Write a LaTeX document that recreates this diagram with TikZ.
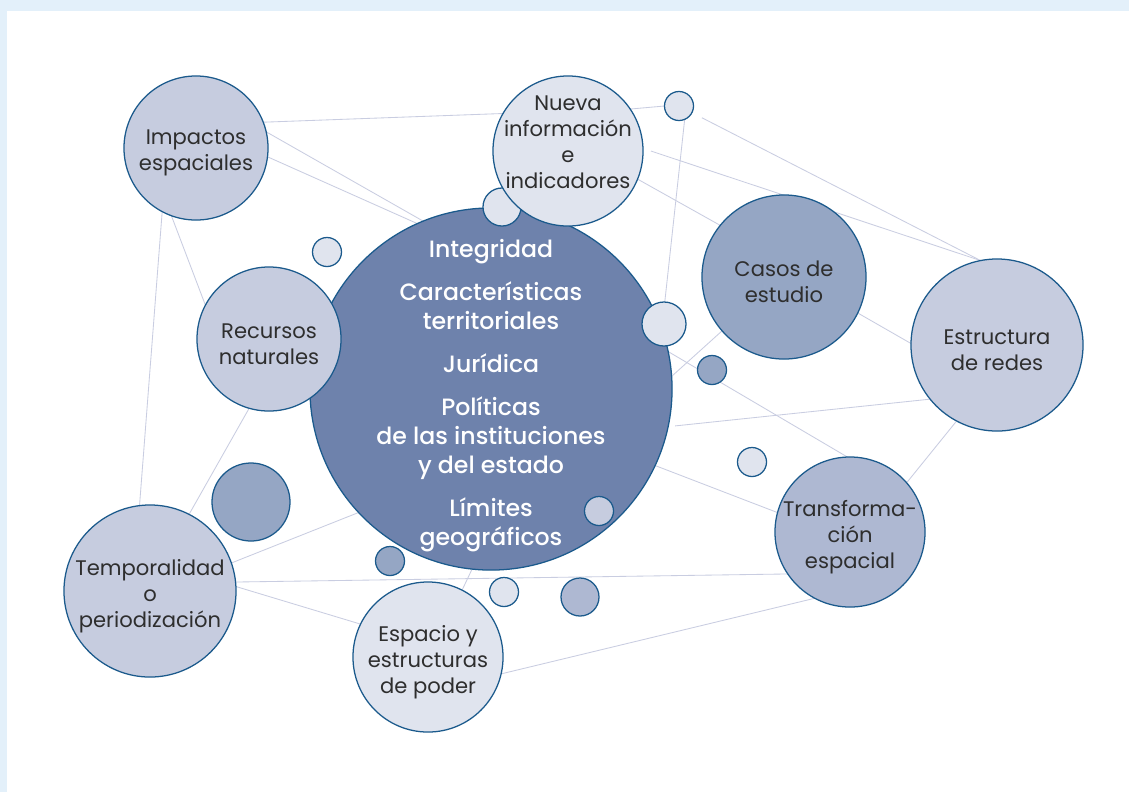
\documentclass[tikz,border=0pt]{standalone}
\usepackage{fontspec}
\setmainfont{Poppins}
\newfontfamily\kraeftig{Poppins Medium}

\definecolor{rahmen}{HTML}{E3F0FA}
\definecolor{rand}{HTML}{1B5A8C}
\definecolor{linie}{HTML}{C9CDE1}
\definecolor{schrift}{HTML}{2E2E2E}
\definecolor{haupt}{HTML}{6E82AC}
\definecolor{hell}{HTML}{C6CCDF}
\definecolor{blass}{HTML}{E0E4EE}
\definecolor{mittel}{HTML}{95A6C4}
\definecolor{wandel}{HTML}{AEB8D2}

\pgfdeclarelayer{hinten}
\pgfsetlayers{hinten,main}

\tikzset{
  blase/.style={circle, draw=rand, line width=0.9pt, inner sep=0pt, outer sep=0pt},
  etikett/.style={align=center, text=schrift, inner sep=0pt, yshift=-0.125cm,
    font=\fontsize{15}{18.4}\selectfont},
  netz/.style={draw=linie, line width=0.6pt}
}

% blase: [etikett-optionen] name, x, y, radius (px), farbe, text
\newcommand{\blase}[7][]{%
  \node[blase, fill=#6, minimum size=#5*0.05cm,
    label={[etikett,#1]center:{#7}}] (#2) at (#3,#4) {};
}

\begin{document}
\begin{tikzpicture}[x=0.025cm, y=-0.025cm]
  \useasboundingbox (0,0) rectangle (1129,792);

  % Hauptkreis
  \node[blase, fill=haupt, minimum size=181*0.05cm] (main) at (491,389) {};
  \node[etikett, yshift=0.125cm, text=white, font=\kraeftig\fontsize{16.8}{20.6}\selectfont]
    (maintext) at (491,396)
    {Integridad\\[10pt]
     Características\\territoriales\\[10pt]
     Jurídica\\[10pt]
     Políticas\\de las instituciones\\y del estado\\[10pt]
     Límites\\geográficos};

  % kleine Punkte am Hauptkreis
  \blase{p2}{502}{207}{19}{blass}{}
  \blase{p4}{664}{324}{22}{blass}{}
  \blase{p7}{599}{511}{14.5}{hell}{}

  % Themen
  \blase{imp}{196}{148}{72}{hell}{Impactos\\espaciales}
  \blase{rec}{269}{339}{72}{hell}{Recursos\\naturales}
  \blase{temp}{150}{591}{86}{hell}{Temporalidad\\o\\periodización}
  \blase{estr}{997}{345}{86}{hell}{Estructura\\de redes}
  \blase[yshift=0.35cm]{nueva}{568}{151}{75}{blass}{Nueva\\información\\e\\indicadores}
  \blase{esp}{428}{657}{75}{blass}{Espacio y\\estructuras\\de poder}
  \blase{casos}{784}{277}{82}{mittel}{Casos de\\estudio}
  \blase{transf}{850}{532}{75}{wandel}{Transforma-\\ción\\espacial}

  % freie Punkte
  \blase{p1}{327}{252}{14.5}{blass}{}
  \blase{p3}{679}{106}{14.5}{blass}{}
  \blase{p5}{712}{370}{14.5}{mittel}{}
  \blase{p6}{752}{462}{14.5}{blass}{}
  \blase{p8}{251}{502}{39}{mittel}{}
  \blase{p9}{390}{561}{14.5}{mittel}{}
  \blase{p10}{504}{592}{14.5}{blass}{}
  \blase{p11}{580}{597}{19}{wandel}{}

  \begin{pgfonlayer}{hinten}
    % Rahmen
    \fill[rahmen] (0,0) rectangle (1129,792);
    \fill[white] (7,11) rectangle (1129,792);

    % Verbindungen
    \draw[netz] (imp.21) -- (nueva.150);
    \draw[netz] (imp.13) -- (main.112);
    \draw[netz] (imp.-7) -- (main.114);
    \draw[netz] (imp.250) -- (rec.152);
    \draw[netz] (imp.242) -- (temp.97);
    \draw[netz] (rec.254) -- (temp.63);
    \draw[netz] (temp.19) -- (main.223);
    \draw[netz] (temp.6) -- (transf.214);
    \draw[netz] (temp.3) -- (esp.154);
    \draw[netz] (esp.63) -- (main.264);
    \draw[netz] (esp.-13) -- (transf.242);
    \draw[netz] (main.-25) -- (transf.165);
    \draw[netz] (p4.-110) -- (transf.92);
    \draw[netz] (p3.-67) -- (p4.88);
    \draw[netz] (nueva.34) -- (p3.180);
    \draw[netz, shorten <=8pt] (p3) -- (estr.101);
    \draw[netz, shorten <=6pt] (nueva.2) -- (estr.101);
    \draw[netz] (nueva.-22) -- (casos.141);
    \draw[netz] (casos.221) -- (main.4);
    \draw[netz] (casos.-26) -- (estr.179);
    \draw[netz, shorten <=5pt] (main.-12) -- (estr.219);
    \draw[netz] (estr.242) -- (transf.41);
  \end{pgfonlayer}
\end{tikzpicture}
\end{document}
